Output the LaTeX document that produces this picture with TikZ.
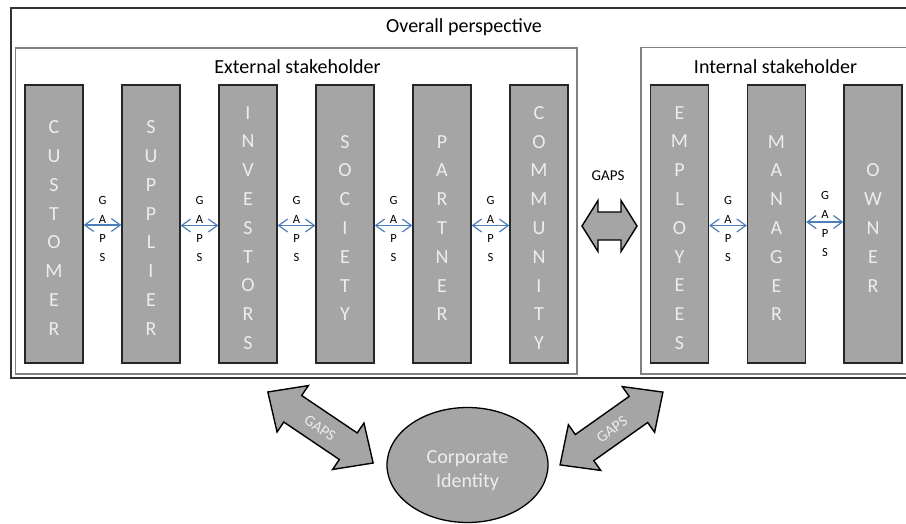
\documentclass[tikz,border=0pt]{standalone}
\usepackage{fontspec}
\setmainfont{Carlito}
\usetikzlibrary{arrows.meta,shapes.geometric}
\definecolor{barfill}{HTML}{A5A5A5}
\definecolor{bartext}{HTML}{EDEDED}
\definecolor{gapblue}{HTML}{4A7EBB}
\definecolor{boxgray}{HTML}{808080}
\begin{document}
\begin{tikzpicture}[x=1pt,y=-1pt,
  bar/.style={draw=black!85, line width=1.3pt, fill=barfill, minimum width=58pt, minimum height=278pt, inner sep=0pt},
  bartxt/.style={text=bartext, font=\fontsize{20}{28.8}\selectfont, align=center, inner sep=0pt},
  gaptxt/.style={font=\fontsize{12.5}{19}\selectfont, align=center, inner sep=0pt},
  gaparrow/.style={draw=gapblue, line width=1.2pt, {Straight Barb[length=9pt,width=13pt]}-{Straight Barb[length=9pt,width=13pt]}},
  titletxt/.style={font=\fontsize{20}{24}\selectfont, anchor=base, inner sep=0pt},
  outerline/.style={draw=black!80, line width=1.5pt},
  groupline/.style={draw=boxgray, line width=1.2pt},
  blockarrow/.style={draw=black, line width=1.4pt, fill=barfill, line join=miter},
  arrowtxt/.style={text=bartext, font=\fontsize{15.5}{18}\selectfont, inner sep=0pt}
]
\clip (0,0) rectangle (906,523);
% frames
\draw[outerline] (11,8) rectangle (925,378);
\draw[groupline] (15.5,48) rectangle (577,374);
\draw[groupline] (641,47.5) rectangle (925,374);
\node[titletxt] (overall) at (464,32.7) {Overall perspective};
\node[titletxt] (exttitle) at (297.5,73.3) {External stakeholder};
\node[titletxt] (inttitle) at (775.5,73.3) {Internal stakeholder};
% bars
\node[bar] (cust) at (54,224) {};
\node[bar] (supp) at (151,224) {};
\node[bar] (inv)  at (248,224) {};
\node[bar] (soc)  at (345,224) {};
\node[bar] (part) at (442,224) {};
\node[bar] (comm) at (539,224) {};
\node[bar] (emp)  at (679.5,224) {};
\node[bar] (man)  at (776.5,224) {};
\node[bar] (own)  at (873,224) {};
\node[bartxt] (custt) at (54,228) {C\\U\\S\\T\\O\\M\\E\\R};
\node[bartxt] (suppt) at (151,228) {S\\U\\P\\P\\L\\I\\E\\R};
\node[bartxt] (invt)  at (248,228) {I\\N\\V\\E\\S\\T\\O\\R\\S};
\node[bartxt] (soct)  at (345,228) {S\\O\\C\\I\\E\\T\\Y};
\node[bartxt] (partt) at (442,228) {P\\A\\R\\T\\N\\E\\R};
\node[bartxt] (commt) at (539,228) {C\\O\\M\\M\\U\\N\\I\\T\\Y};
\node[bartxt] (empt)  at (679.5,228) {E\\M\\P\\L\\O\\Y\\E\\E\\S};
\node[bartxt] (mant)  at (776.5,228) {M\\A\\N\\A\\G\\E\\R};
\node[bartxt] (ownt)  at (873,228) {O\\W\\N\\E\\R};
% small gap arrows
\draw[gaparrow] ([yshift=-1pt]cust.east) -- ([yshift=-1pt]supp.west);
\draw[gaparrow] ([yshift=-1.5pt]supp.east) -- ([yshift=-1.5pt]inv.west);
\draw[gaparrow] ([yshift=-1.5pt]inv.east) -- ([yshift=-1.5pt]soc.west);
\draw[gaparrow] ([yshift=-1.5pt]soc.east) -- ([yshift=-1.5pt]part.west);
\draw[gaparrow] ([yshift=-1.5pt]part.east) -- ([yshift=-1.5pt]comm.west);
\draw[gaparrow] ([yshift=-1.5pt]emp.east) -- ([yshift=-1.5pt]man.west);
\draw[gaparrow] ([yshift=2pt]man.east) -- ([yshift=2pt]own.west);
\node[gaptxt] (g1) at (102.5,228.5) {G\\A\\P\\S};
\node[gaptxt] (g2) at (199.5,228.5) {G\\A\\P\\S};
\node[gaptxt] (g3) at (296.5,228.5) {G\\A\\P\\S};
\node[gaptxt] (g4) at (393.5,228.5) {G\\A\\P\\S};
\node[gaptxt] (g5) at (490.5,228.5) {G\\A\\P\\S};
\node[gaptxt] (g6) at (728,228.5) {G\\A\\P\\S};
\node[gaptxt] (g7) at (825,224) {G\\A\\P\\S};
% big gap arrow between groups
\draw[blockarrow] (582,226) -- (598,200.5) -- (598,212) -- (621,212) -- (621,200.5) -- (637,226) -- (621,251.5) -- (621,240) -- (598,240) -- (598,251.5) -- cycle;
\node[font=\fontsize{15}{18}\selectfont, anchor=base, inner sep=0pt] (biggap) at (608,180.7) {GAPS};
% corporate identity
\node[ellipse, draw=black, line width=1.3pt, fill=barfill, minimum width=161pt, minimum height=115pt, inner sep=0pt] (corp) at (467.5,465) {};
\node[text=bartext, font=\fontsize{20}{24}\selectfont, align=center, inner sep=0pt] (corpt) at (467.5,471) {Corporate\\Identity};
% diagonal block arrows
\begin{scope}[shift={(320.5,427.5)}, rotate=-34]
\draw[blockarrow] (-63.5,0) -- (-33.5,-28) -- (-33.5,-16) -- (33.5,-16) -- (33.5,-28) -- (63.5,0) -- (33.5,28) -- (33.5,16) -- (-33.5,16) -- (-33.5,28) -- cycle;
\node[arrowtxt, rotate=-34] (lgap) at (0,1) {GAPS};
\end{scope}
\begin{scope}[shift={(611.5,428.5)}, rotate=35.3]
\draw[blockarrow] (-63,0) -- (-33,-28) -- (-33,-16) -- (33,-16) -- (33,-28) -- (63,0) -- (33,28) -- (33,16) -- (-33,16) -- (-33,28) -- cycle;
\node[arrowtxt, rotate=35.3] (rgap) at (0,1) {GAPS};
\end{scope}
\end{tikzpicture}
\end{document}
